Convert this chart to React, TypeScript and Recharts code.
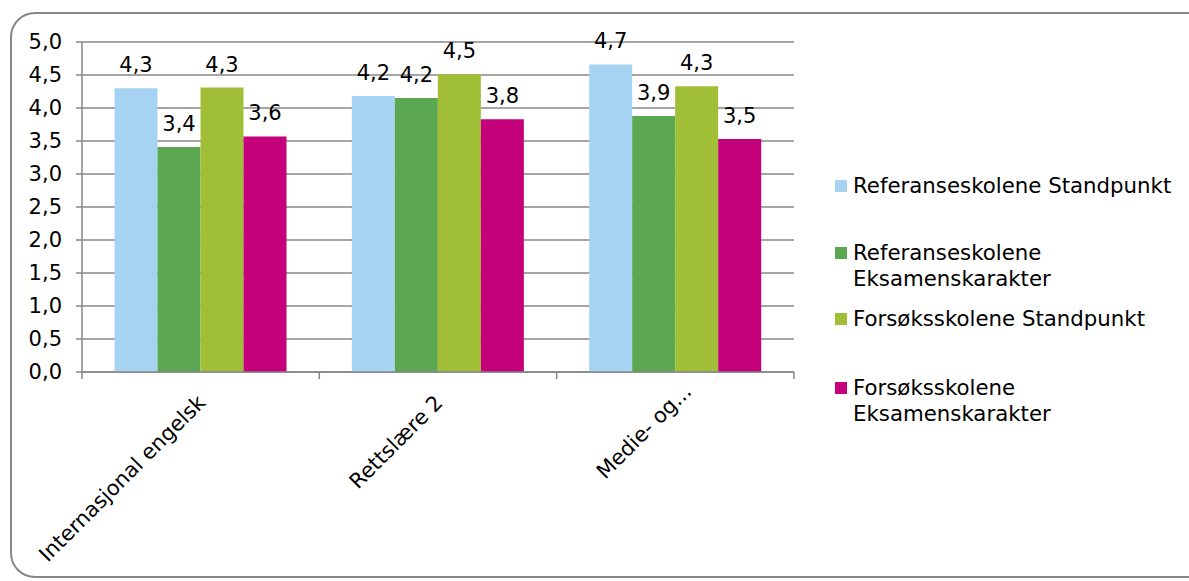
import React from "react";
import { BarChart, Bar, XAxis, YAxis, CartesianGrid, Legend, LabelList } from "recharts";

const categories = ["Internasjonal engelsk", "Rettslære 2", "Medie- og..."];
const refStandpunkt = [4.3, 4.18, 4.66];
const refEksamen = [3.41, 4.15, 3.88];
const forsStandpunkt = [4.31, 4.51, 4.33];
const forsEksamen = [3.57, 3.83, 3.53];
const seriesNames = [
  "Referanseskolene Standpunkt",
  "Referanseskolene Eksamenskarakter",
  "Forsøksskolene Standpunkt",
  "Forsøksskolene Eksamenskarakter",
];
const seriesKeys = ["rs", "re", "fs", "fe"];
const seriesColors = ["#A6D3F2", "#5BA752", "#A1BE37", "#C4007A"];
const yTicks = [0, 0.5, 1, 1.5, 2, 2.5, 3, 3.5, 4, 4.5, 5];

const data = categories.map((c, i) => ({
  name: c,
  rs: refStandpunkt[i],
  re: refEksamen[i],
  fs: forsStandpunkt[i],
  fe: forsEksamen[i],
}));

const W = 1189;
const H = 581;
const PLOT_LEFT = 82;
const PLOT_RIGHT = 794;
const PLOT_TOP = 42;
const PLOT_BOTTOM = 372;
const FONT = "'DejaVu Sans', Verdana, sans-serif";
const GRID = "#878787";
const BAND = (PLOT_RIGHT - PLOT_LEFT) / categories.length;

const fmt = (v: number) => v.toFixed(1).replace(".", ",");

const XTick = (props: any) => {
  const { x, y, payload, index } = props;
  const label: string = payload.value;
  const extra = label.endsWith("...") ? 16 : 0;
  const ax = x + 6 + extra * 0.707;
  const ay = y + 32 - extra * 0.707;
  return (
    <g>
      <line x1={x - BAND / 2} y1={y} x2={x - BAND / 2} y2={y + 7} stroke={GRID} strokeWidth={1.5} />
      {index === categories.length - 1 && (
        <line x1={x + BAND / 2} y1={y} x2={x + BAND / 2} y2={y + 7} stroke={GRID} strokeWidth={1.5} />
      )}
      <text
        x={ax}
        y={ay}
        textAnchor="end"
        transform={`rotate(-45 ${ax} ${ay})`}
        fontFamily={FONT}
        fontSize={21}
        fill="#000"
      >
        {label}
      </text>
    </g>
  );
};

const legendGaps = [0, 41, 14, 43];

const LegendContent = () => (
  <div style={{ fontFamily: FONT, fontSize: 21.3, lineHeight: "26px", color: "#000", width: 345 }}>
    {seriesNames.map((n, i) => (
      <div key={n} style={{ position: "relative", paddingLeft: 18, marginTop: legendGaps[i], width: 327 }}>
        <span
          style={{
            position: "absolute",
            left: 0,
            top: 7,
            width: 12,
            height: 12,
            background: seriesColors[i],
          }}
        />
        {n}
      </div>
    ))}
  </div>
);

export default function App() {
  return (
    <div style={{ position: "absolute", left: 0, top: 0, width: W, height: H, background: "#fff" }}>
      <div
        style={{
          position: "absolute",
          left: 10,
          top: 12,
          width: 1210,
          height: 566,
          boxSizing: "border-box",
          border: "2px solid #878787",
          borderRadius: 25,
        }}
      />
      <div style={{ position: "absolute", left: 0, top: 0 }}>
        <BarChart
          width={W}
          height={H}
          data={data}
          margin={{ top: PLOT_TOP, right: W - PLOT_RIGHT, bottom: 0, left: 0 }}
          barCategoryGap="13.7%"
          barGap={0}
        >
          <CartesianGrid vertical={false} stroke={GRID} strokeWidth={1.5} />
          <XAxis
            dataKey="name"
            height={H - PLOT_BOTTOM}
            axisLine={{ stroke: GRID, strokeWidth: 1.5 }}
            tickLine={false}
            tickSize={0}
            tickMargin={0}
            interval={0}
            tick={<XTick />}
          />
          <YAxis
            width={PLOT_LEFT}
            domain={[0, 5]}
            ticks={yTicks}
            interval={0}
            tickFormatter={fmt}
            axisLine={{ stroke: GRID, strokeWidth: 1.5 }}
            tickLine={{ stroke: GRID, strokeWidth: 1.5 }}
            tickSize={6}
            tickMargin={14}
            tick={{ fontFamily: FONT, fontSize: 21, fill: "#000" }}
          />
          <Legend
            layout="vertical"
            align="center"
            verticalAlign="middle"
            content={<LegendContent />}
            wrapperStyle={{ left: 835, top: 173, width: 345 }}
          />
          {seriesKeys.map((k, i) => (
            <Bar key={k} dataKey={k} name={seriesNames[i]} fill={seriesColors[i]} isAnimationActive={false}>
              <LabelList
                dataKey={k}
                position="top"
                offset={16}
                formatter={(v: any) => fmt(Number(v))}
                style={{ fontFamily: FONT, fontSize: 21, fill: "#000" }}
              />
            </Bar>
          ))}
        </BarChart>
      </div>
    </div>
  );
}
